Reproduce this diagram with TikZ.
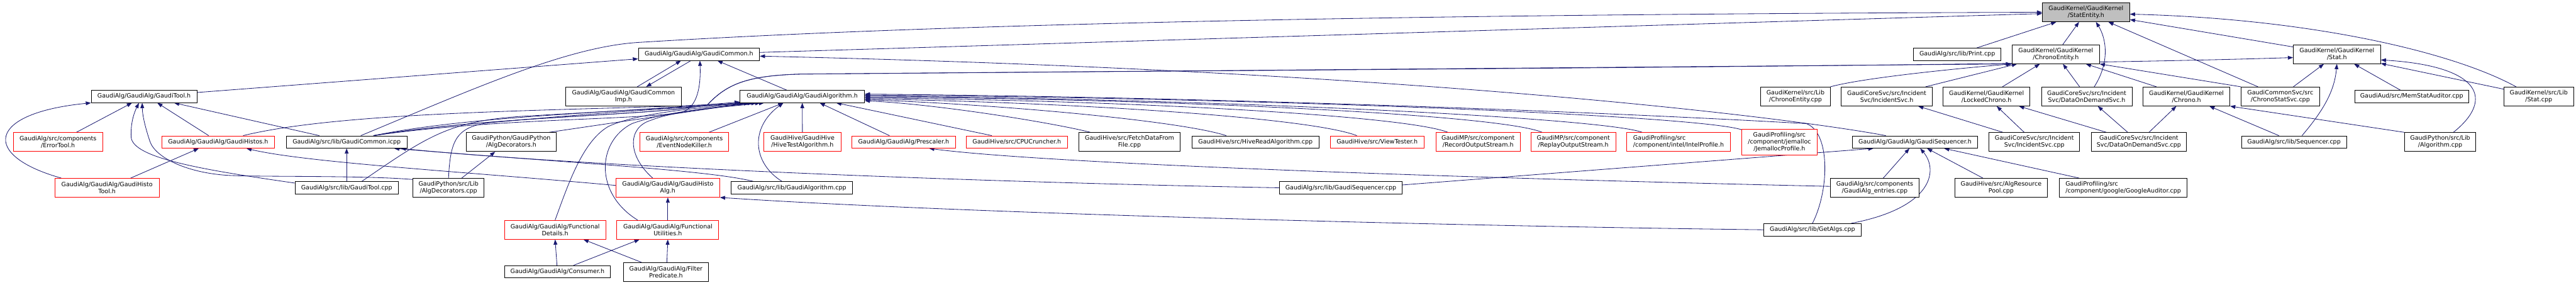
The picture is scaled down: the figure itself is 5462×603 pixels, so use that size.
\documentclass[tikz,border=0pt]{standalone}
\usepackage{fontspec}
\setmainfont{DejaVu Sans}
\usetikzlibrary{arrows.meta,calc}
\definecolor{mblue}{HTML}{191970}
\definecolor{rootgray}{HTML}{BFBFBF}
\newcommand\dgfont{\fontsize{12.7pt}{14.7pt}\selectfont}
\pgfdeclarelayer{edgelayer}
\pgfsetlayers{edgelayer,main}
\tikzset{
  box/.style={rectangle, draw=black, fill=white, line width=1.1pt, inner sep=0pt, align=center, font=\dgfont},
  rbox/.style={box, draw=red},
  rootbox/.style={box, fill=rootgray},
  sz/.style 2 args={minimum width=#1pt, minimum height=#2pt},
  e/.style={draw=mblue, line width=1.1pt, -{Triangle[length=11pt,width=8pt]}},
}
\begin{document}
\begin{tikzpicture}[x=1pt,y=-1pt]
\useasboundingbox (0,0) rectangle (5462,603);
% row 0
\node[rootbox, sz={185}{40}] (stat) at (4423,26) {GaudiKernel/GaudiKernel\\/StatEntity.h};
% row 1
\node[box, sz={257}{26}] (gch) at (1482,115) {GaudiAlg/GaudiAlg/GaudiCommon.h};
\node[box, sz={185}{26}] (print) at (4150,115) {GaudiAlg/src/lib/Print.cpp};
\node[box, sz={185}{40}] (chent) at (4359,115) {GaudiKernel/GaudiKernel\\/ChronoEntity.h};
\node[box, sz={185}{40}] (stath) at (4955,115) {GaudiKernel/GaudiKernel\\/Stat.h};
% row 2
\node[box, sz={224}{26}] (gth) at (305.5,204.5) {GaudiAlg/GaudiAlg/GaudiTool.h};
\node[box, sz={245}{40}] (gcimp) at (1322,204.5) {GaudiAlg/GaudiAlg/GaudiCommon\\Imp.h};
\node[box, sz={264}{26}] (gah) at (1701,204.5) {GaudiAlg/GaudiAlg/GaudiAlgorithm.h};
\node[box, sz={147}{40}] (chentcpp) at (3807,204.5) {GaudiKernel/src/Lib\\/ChronoEntity.cpp};
\node[box, sz={193}{40}] (incsvch) at (4000.5,204.5) {GaudiCoreSvc/src/Incident\\Svc/IncidentSvc.h};
\node[box, sz={184}{40}] (locked) at (4212,204.5) {GaudiKernel/GaudiKernel\\/LockedChrono.h};
\node[box, sz={192}{40}] (dodh) at (4424.5,204.5) {GaudiCoreSvc/src/Incident\\Svc/DataOnDemandSvc.h};
\node[box, sz={184}{40}] (chronoh) at (4636,204.5) {GaudiKernel/GaudiKernel\\/Chrono.h};
\node[box, sz={166}{40}] (cssvc) at (4835,204.5) {GaudiCommonSvc/src\\/ChronoStatSvc.cpp};
\node[box, sz={242}{26}] (memstat) at (5113.5,204.5) {GaudiAud/src/MemStatAuditor.cpp};
\node[box, sz={147}{40}] (statcpp) at (5383,204.5) {GaudiKernel/src/Lib\\/Stat.cpp};
% row 3
\node[rbox, sz={189}{40}] (errtool) at (123,301) {GaudiAlg/src/components\\/ErrorTool.h};
\node[rbox, sz={239}{26}] (histos) at (462.5,301) {GaudiAlg/GaudiAlg/GaudiHistos.h};
\node[box, sz={256}{26}] (icpp) at (735,301) {GaudiAlg/src/lib/GaudiCommon.icpp};
\node[box, sz={192}{40}] (algdech) at (1084,301) {GaudiPython/GaudiPython\\/AlgDecorators.h};
\node[rbox, sz={188}{40}] (enk) at (1451,301) {GaudiAlg/src/components\\/EventNodeKiller.h};
\node[rbox, sz={163}{40}] (hivetest) at (1701.5,301) {GaudiHive/GaudiHive\\/HiveTestAlgorithm.h};
\node[rbox, sz={220}{26}] (presc) at (1916,301) {GaudiAlg/GaudiAlg/Prescaler.h};
\node[rbox, sz={214}{26}] (cpu) at (2156,301) {GaudiHive/src/CPUCruncher.h};
\node[box, sz={215}{40}] (fetch) at (2395,301) {GaudiHive/src/FetchDataFrom\\File.cpp};
\node[box, sz={270}{26}] (hiveread) at (2662,301) {GaudiHive/src/HiveReadAlgorithm.cpp};
\node[rbox, sz={199}{26}] (viewt) at (2920,301) {GaudiHive/src/ViewTester.h};
\node[rbox, sz={179}{40}] (recout) at (3134,301) {GaudiMP/src/component\\/RecordOutputStream.h};
\node[rbox, sz={180}{40}] (repout) at (3336,301) {GaudiMP/src/component\\/ReplayOutputStream.h};
\node[rbox, sz={220}{40}, align=left] (intel) at (3559,301) {GaudiProfiling/src\\/component/intel/IntelProfile.h};
\node[rbox, sz={159}{55}] (jemal) at (3773,301) {GaudiProfiling/src\\/component/jemalloc\\/JemallocProfile.h};
\node[box, sz={265}{26}] (gsh) at (4060.5,301) {GaudiAlg/GaudiAlg/GaudiSequencer.h};
\node[box, sz={192}{40}] (incsvccpp) at (4313.5,301) {GaudiCoreSvc/src/Incident\\Svc/IncidentSvc.cpp};
\node[box, sz={202}{40}] (dodcpp) at (4535,301) {GaudiCoreSvc/src/Incident\\Svc/DataOnDemandSvc.cpp};
\node[box, sz={223}{26}] (seqcpp) at (4864,301) {GaudiAlg/src/lib/Sequencer.cpp};
\node[box, sz={151}{40}] (algcpp) at (5174,301) {GaudiPython/src/Lib\\/Algorithm.cpp};
% row 4
\node[rbox, sz={221}{40}] (htool) at (227,398) {GaudiAlg/GaudiAlg/GaudiHisto\\Tool.h};
\node[box, sz={219}{26}] (gtcpp) at (735,398) {GaudiAlg/src/lib/GaudiTool.cpp};
\node[box, sz={151}{40}] (algdeccpp) at (951,398) {GaudiPython/src/Lib\\/AlgDecorators.cpp};
\node[rbox, sz={220}{40}] (halg) at (1416,398) {GaudiAlg/GaudiAlg/GaudiHisto\\Alg.h};
\node[box, sz={258}{26}] (gacpp) at (1679,398) {GaudiAlg/src/lib/GaudiAlgorithm.cpp};
\node[box, sz={260}{26}] (gscpp) at (2843,398) {GaudiAlg/src/lib/GaudiSequencer.cpp};
\node[box, sz={189}{40}] (entries) at (3975,398) {GaudiAlg/src/components\\/GaudiAlg\_entries.cpp};
\node[box, sz={197}{40}] (algres) at (4243,398) {GaudiHive/src/AlgResource\\Pool.cpp};
\node[box, sz={271}{40}, align=left] (google) at (4502,398) {GaudiProfiling/src\\/component/google/GoogleAuditor.cpp};
% row 5
\node[rbox, sz={215}{40}] (fdet) at (1177,487) {GaudiAlg/GaudiAlg/Functional\\Details.h};
\node[rbox, sz={216}{40}] (futil) at (1416,487) {GaudiAlg/GaudiAlg/Functional\\Utilities.h};
\node[box, sz={206}{26}] (getalgs) at (3843,487) {GaudiAlg/src/lib/GetAlgs.cpp};
% row 6
\node[box, sz={225}{26}] (consumer) at (1182,576) {GaudiAlg/GaudiAlg/Consumer.h};
\node[box, sz={181}{40}] (filter) at (1412,576.5) {GaudiAlg/GaudiAlg/Filter\\Predicate.h};

\begin{pgfonlayer}{edgelayer}
% ---- to StatEntity.h
\draw[e] (gch) -- (stat);
\draw[e] ($(icpp.north)+(30,0)$) .. controls (1000,190) and (1200,100) .. (1352,90) .. controls (2000,50) and (3000,30) .. (stat.west);
\draw[e] (print) -- (stat);
\draw[e] (chent) -- (stat);
\draw[e] ($(dodh.north)+(16,0)$) .. controls (4475,130) and (4465,80) .. ($(stat.south)+(21,0)$);
\draw[e] (cssvc) -- (stat);
\draw[e] (stath) -- (stat);
\draw[e] ($(statcpp.north)+(-48,0)$) .. controls (5200,110) and (4900,40) .. ($(stat.east)+(0,4)$);
% ---- to ChronoEntity.h
\draw[e] (chentcpp.north east) .. controls (3950,165) and (4150,145) .. (chent.south west);
\draw[e] (incsvch) -- (chent);
\draw[e] (locked) -- (chent);
\draw[e] (dodh) -- (chent);
\draw[e] (chronoh) -- (chent);
\draw[e] (cssvc.north west) -- (chent.south east);
\draw[e] ($(icpp.north)+(57,0)$) .. controls (1050,245) and (1400,245) .. (1500,222) .. controls (1540,180) and (1580,160) .. (1700,157) -- ($(chent.south west)+(-2,0)$);
% ---- to Stat.h
\draw[e] ($(icpp.north)+(57,0)$) .. controls (1050,245) and (1400,245) .. (1500,222) .. controls (1540,180) and (1580,160) .. (1700,157) .. controls (3000,146) and (4300,140) .. ($(stath.west)+(0,7)$);
\draw[e] (cssvc) -- (stath);
\draw[e] ($(seqcpp.north)+(17,0)$) .. controls (4930,230) and (4950,190) .. (stath.south);
\draw[e] (memstat) -- (stath);
\draw[e] ($(algcpp.north)+(28,0)$) .. controls (5290,210) and (5260,140) .. ($(stath.east)+(0,12)$);
\draw[e] (statcpp) -- (stath);
% ---- to Chrono.h, LockedChrono.h, IncidentSvc.h, DataOnDemandSvc.h
\draw[e] (dodcpp) -- (chronoh);
\draw[e] (seqcpp) -- (chronoh);
\draw[e] (algcpp.north west) -- (chronoh.south east);
\draw[e] (incsvccpp) -- (locked);
\draw[e] (dodcpp) -- (locked);
\draw[e] (incsvccpp) -- (incsvch);
\draw[e] (dodcpp) -- (dodh);
% ---- to GaudiSequencer.h
\draw[e] ($(gscpp.east)+(0,-6)$) -- ($(gsh.south west)+(45,0)$);
\draw[e] (entries) -- (gsh);
\draw[e] ($(getalgs.north east)+(-22,0)$) .. controls (4100,440) and (4110,360) .. ($(gsh.south)+(11,0)$);
\draw[e] (algres) -- (gsh);
\draw[e] (google) -- (gsh);
% ---- to GaudiAlgorithm.h from the right
\draw[e] ($(fetch.north)+(-83,0)$) .. controls (2240,262) and (2000,222) .. ($(gah.east)+(0,9)$);
\draw[e] ($(hiveread.north)+(-62,0)$) .. controls (2500,255) and (2100,220) .. ($(gah.east)+(0,7)$);
\draw[e] ($(viewt.north)+(-43,0)$) .. controls (2780,250) and (2300,218) .. ($(gah.east)+(0,5)$);
\draw[e] ($(recout.north)+(-64,0)$) .. controls (2980,245) and (2400,213) .. ($(gah.east)+(0,3)$);
\draw[e] ($(repout.north)+(-66,0)$) .. controls (3180,243) and (2500,210) .. ($(gah.east)+(0,1)$);
\draw[e] ($(intel.north)+(-77,0)$) .. controls (3400,250) and (2600,210) .. ($(gah.east)+(0,-1)$);
\draw[e] ($(jemal.north west)+(0,2)$) .. controls (3600,245) and (2700,208) .. ($(gah.east)+(0,-3)$);
\draw[e] (getalgs.north) .. controls (3880,400) and (3880,280) .. (3830,262) .. controls (3300,232) and (2500,205) .. ($(gah.east)+(0,-5)$);
% ---- to GaudiAlgorithm.h from below
\draw[e] ($(cpu.north)+(-53,0)$) -- ($(gah.south)+(72,0)$);
\draw[e] ($(presc.north)+(-30,0)$) -- ($(gah.south)+(37,0)$);
\draw[e] (hivetest) -- (gah);
\draw[e] ($(enk.north)+(52,0)$) -- ($(gah.south)+(-40,0)$);
\draw[e] ($(gacpp.north)+(-21,0)$) .. controls (1595,345) and (1590,270) .. ($(gah.south)+(-40,0)$);
% ---- to GaudiAlgorithm.h from the left
\draw[e] ($(icpp.north)+(57,0)$) .. controls (1000,245) and (1300,240) .. ($(gah.south west)+(0,-2)$);
\draw[e] ($(histos.north)+(53,0)$) .. controls (750,230) and (1300,235) .. ($(gah.south west)+(5,0)$);
\draw[e] ($(gtcpp.north)+(32,0)$) .. controls (905,290) and (950,258) .. (1100,247) .. controls (1300,235) and (1450,228) .. ($(gah.south west)+(12,0)$);
\draw[e] ($(algdech.north)+(80,0)$) -- ($(gah.south west)+(20,0)$);
\draw[e] (algdeccpp.north) .. controls (955,300) and (965,268) .. (1040,260) .. controls (1250,240) and (1450,228) .. ($(gah.south west)+(28,0)$);
\draw[e] (fdet.north) .. controls (1205,390) and (1235,300) .. (1290,268) .. controls (1350,240) and (1480,228) .. ($(gah.south west)+(36,0)$);
\draw[e] ($(futil.north)+(-64,0)$) .. controls (1260,410) and (1265,300) .. (1340,262) .. controls (1400,240) and (1500,228) .. ($(gah.south west)+(44,0)$);
\draw[e] ($(halg.north)+(-32,0)$) .. controls (1330,330) and (1330,270) .. (1380,255) .. controls (1430,235) and (1520,228) .. ($(gah.south west)+(52,0)$);
% ---- to GaudiCommon.h / GaudiCommonImp.h
\draw[e] (gth) -- (gch);
\draw[e] ($(gcimp.north)+(29,0)$) -- ($(gch.south)+(-38,0)$);
\draw[e] ($(gch.south)+(-17,0)$) -- ($(gcimp.north)+(48,0)$);
\draw[e] ($(gah.north)+(-33,0)$) -- ($(gch.south)+(39,0)$);
\draw[e] ($(gsh.north)+(-62,0)$) .. controls (3800,250) and (3000,150) .. ($(gch.east)+(0,4)$);
\draw[e] ($(icpp.north)+(57,0)$) .. controls (1050,250) and (1350,255) .. (1445,238) .. controls (1480,228) and (1486,180) .. ($(gch.south)+(2,0)$);
% ---- to GaudiTool.h
\draw[e] (errtool) -- (gth);
\draw[e] ($(htool.north west)+(14,0)$) .. controls (-40,330) and (-30,240) .. (gth.south west);
\draw[e] ($(gtcpp.west)+(0,-10)$) .. controls (430,360) and (280,335) .. (278,290) .. controls (277,260) and (284,240) .. ($(gth.south)+(-11,0)$);
\draw[e] ($(algdeccpp.north west)+(0,3)$) .. controls (780,372) and (560,375) .. (490,372) .. controls (400,368) and (330,335) .. (318,300) .. controls (308,270) and (302,245) .. ($(gth.south)+(-4,0)$);
\draw[e] ($(histos.north)+(-20,0)$) -- ($(gth.south)+(28,0)$);
\draw[e] ($(icpp.north)+(-58,0)$) -- ($(gth.south east)+(-49,0)$);
% ---- to GaudiHistos.h
\draw[e] ($(htool.north)+(50,0)$) -- ($(histos.south)+(-41,0)$);
\draw[e] ($(halg.west)+(0,-5)$) .. controls (1000,365) and (650,345) .. ($(histos.south)+(60,0)$);
% ---- to GaudiCommon.icpp
\draw[e] (gtcpp) -- (icpp);
\draw[e] ($(gacpp.north west)+(48,0)$) .. controls (1500,360) and (1200,345) .. ($(icpp.south east)+(-28,0)$);
\draw[e] (gscpp.west) .. controls (2000,385) and (1200,350) .. ($(icpp.south east)+(-14,0)$);
% ---- misc
\draw[e] ($(algdeccpp.north)+(28,0)$) -- ($(algdech.south)+(-34,0)$);
\draw[e] ($(entries.west)+(0,-3)$) .. controls (3000,375) and (2200,345) .. ($(presc.south)+(54,0)$);
\draw[e] (futil) -- (halg);
\draw[e] (getalgs.west) .. controls (3000,478) and (2000,450) .. (halg.south east);
\draw[e] ($(consumer.north)+(-1,0)$) -- (fdet.south);
\draw[e] ($(filter.north)+(-52,0)$) -- ($(fdet.south)+(60,0)$);
\draw[e] ($(consumer.north)+(34,0)$) -- ($(futil.south)+(-60,0)$);
\draw[e] ($(filter.north)+(2,0)$) -- (futil.south);
\end{pgfonlayer}
\end{tikzpicture}
\end{document}
